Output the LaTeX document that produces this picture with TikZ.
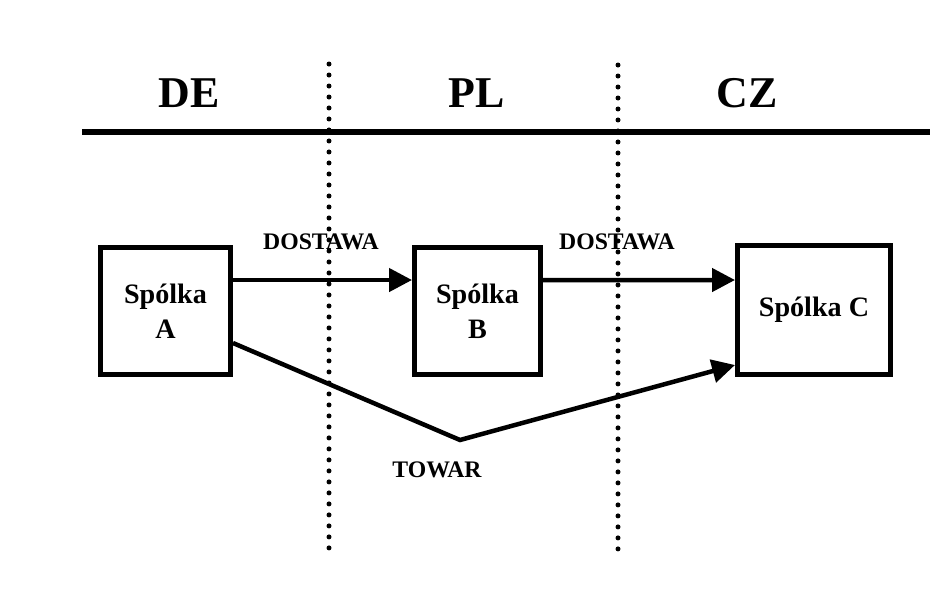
\documentclass[tikz,border=0pt]{standalone}
\usepackage{fontspec}
\setmainfont{Liberation Serif}
\usetikzlibrary{arrows.meta}

\tikzset{
  firm/.style={draw,line width=0.1cm,inner sep=0pt,align=center,
    font=\fontsize{16}{20}\selectfont\bfseries},
  country/.style={font=\fontsize{25}{30}\selectfont\bfseries},
  lbl/.style={font=\fontsize{13.5}{16}\selectfont\bfseries},
  flow/.style={line width=0.09cm,-{Triangle[length=0.46cm,width=0.46cm]}},
  border/.style={line width=0.1cm,line cap=round,dash pattern=on 0pt off 0.22cm}
}

\begin{document}
\begin{tikzpicture}[x=0.02cm,y=-0.02cm]
\useasboundingbox (0,0) rectangle (948,593);
% countries
\node[country] (de) at (189,93) {DE};
\node[country] (pl) at (477,93) {PL};
\node[country] (cz) at (747,93) {CZ};
\draw[line width=0.12cm] (82,132) -- (930,132);
\draw[border] (329,64) -- (329,550);
\draw[border] (618,65) -- (618,550);
% companies
\node[firm,minimum width=2.6cm,minimum height=2.54cm] (A) at (165.5,311) {Spólka\\A};
\node[firm,minimum width=2.52cm,minimum height=2.54cm] (B) at (477.5,311) {Spólka\\B};
\node[firm,minimum width=3.06cm,minimum height=2.58cm] (C) at (814,310) {Spólka C};
% flows
\draw[flow] ([yshift=0.62cm]A.east) -- ([yshift=0.62cm]B.west);
\draw[flow] ([yshift=0.62cm]B.west -| B.east) -- ([yshift=0.6cm]C.west);
\coordinate (bend) at (460,440);
\draw[flow] ([yshift=-0.64cm]A.east) -- (bend) -- ([yshift=-1.1cm]C.west);
\node[lbl] (d1) at (321,242) {DOSTAWA};
\node[lbl] (d2) at (617,242) {DOSTAWA};
\node[lbl] (tw) at (437,470) {TOWAR};
\end{tikzpicture}
\end{document}
